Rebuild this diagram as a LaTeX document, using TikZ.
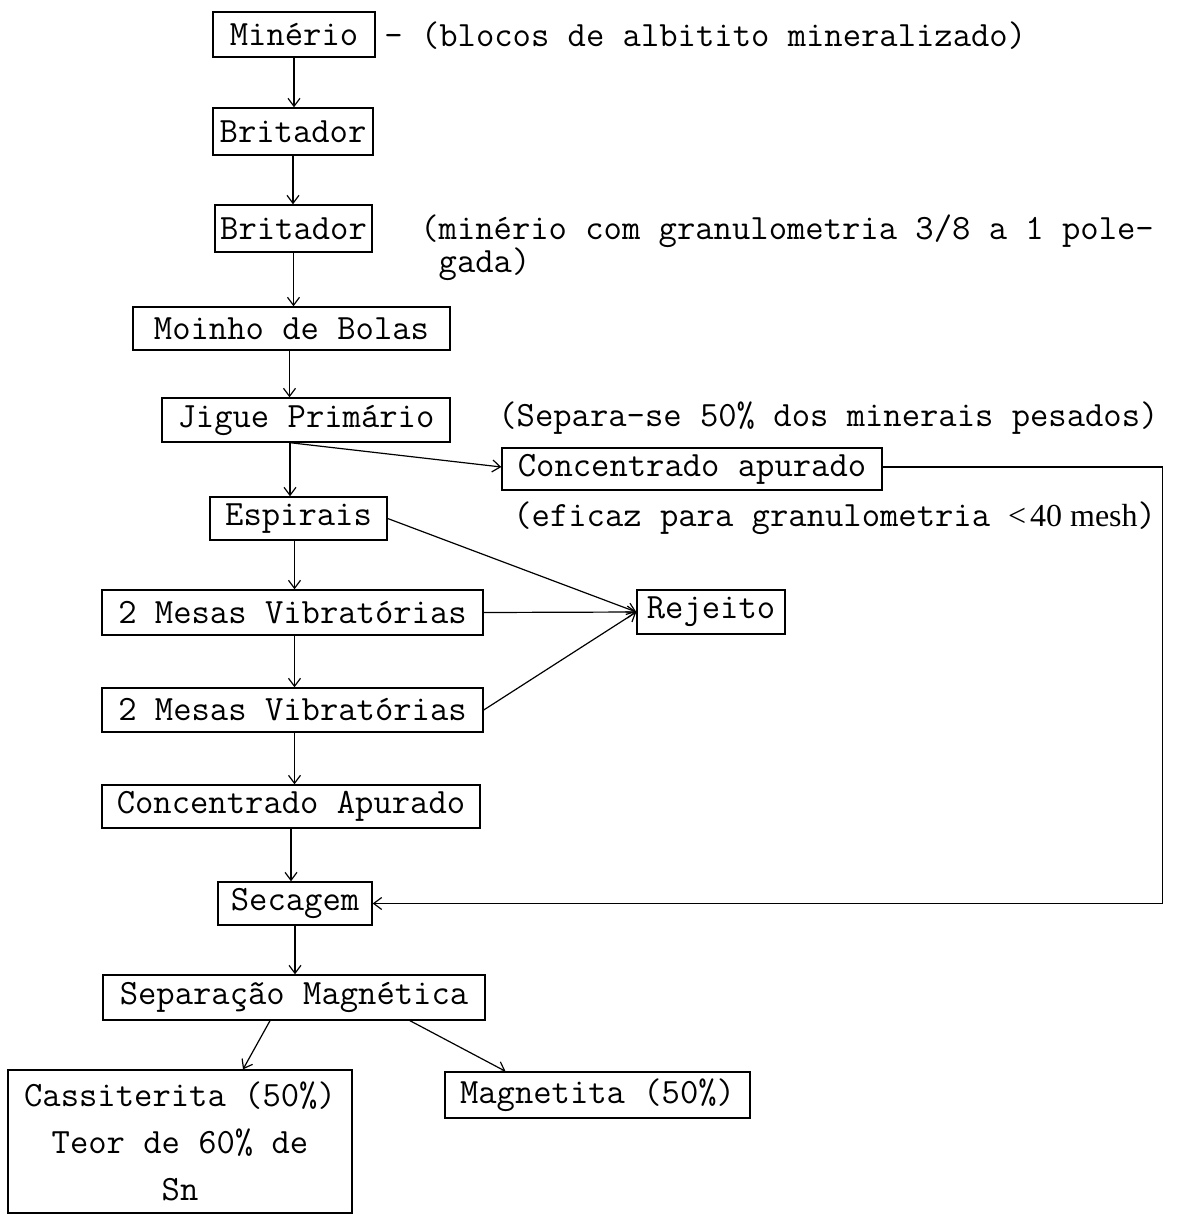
\documentclass[tikz,border=0pt]{standalone}
\usepackage{fontspec}
\setmainfont{Liberation Serif}
\usetikzlibrary{calc,arrows.meta}
\tikzset{
  box/.style={draw, line width=0.7pt, inner sep=0pt, font=\ttfamily\fontsize{17.8}{20}\selectfont},
  note/.style={inner sep=0pt, anchor=west, align=left, font=\ttfamily\fontsize{17.8}{16.5}\selectfont},
  arr/.style={line width=0.6pt, -{Straight Barb[length=4pt,width=6pt]}},
  ln/.style={line width=0.6pt}
}
\begin{document}
\begin{tikzpicture}[x=0.5pt,y=-0.5pt]
\useasboundingbox (0,0) rectangle (1194,1215);
\node[box, minimum width=81pt, minimum height=22.5pt] (min) at (294,34.5) {Minério};
\node[box, minimum width=80pt, minimum height=23.5pt] (bri1) at (293,131.5) {Britador};
\node[box, minimum width=78.5pt, minimum height=23.5pt] (bri2) at (293.5,228.5) {Britador};
\node[box, minimum width=158.5pt, minimum height=21.5pt] (moi) at (291.5,328.5) {Moinho de Bolas};
\node[box, minimum width=144pt, minimum height=22pt] (jig) at (306,420) {Jigue Primário};
\node[box, minimum width=190pt, minimum height=21pt] (cap) at (692,469) {Concentrado apurado};
\node[box, minimum width=88.5pt, minimum height=21.5pt] (esp) at (298.5,518.5) {Espirais};
\node[box, minimum width=74pt, minimum height=22pt] (rej) at (711,612) {Rejeito};
\node[box, minimum width=190.5pt, minimum height=22.5pt] (mes1) at (292.5,612.5) {2 Mesas Vibratórias};
\node[box, minimum width=190.5pt, minimum height=22pt] (mes2) at (292.5,710) {2 Mesas Vibratórias};
\node[box, minimum width=189pt, minimum height=21.5pt] (cAp) at (291,806.5) {Concentrado Apurado};
\node[box, minimum width=77pt, minimum height=21.5pt] (sec) at (295,903.5) {Secagem};
\node[box, minimum width=191pt, minimum height=22.5pt] (sep) at (294,997.5) {Separação Magnética};
\node[box, minimum width=172pt, minimum height=71.5pt, align=center, font=\ttfamily\fontsize{17.8}{23.5}\selectfont] (cas) at (180,1141.5) {Cassiterita (50\%)\\Teor de 60\% de\\Sn};
\node[box, minimum width=152.5pt, minimum height=23pt] (mag) at (597.5,1095) {Magnetita (50\%)};

\node[note] (n1) at (384,36) {- (blocos de albitito mineralizado)};
\node[note, anchor=north west] (n2) at (420,214) {(minério com granulometria 3/8 a 1 pole-\\\phantom{(}gada)};
\node[note] (n3) at (498,418) {(Separa-se 50\% dos minerais pesados)};
\node[note] (n4) at (513,518) {(eficaz para granulometria\hspace{9pt}{\rmfamily\fontsize{16}{18}\selectfont\textless\hspace{2pt}40 mesh})};

\draw[arr] (min.south) -- (min.south |- bri1.north);
\draw[arr] (bri1.south) -- (bri1.south |- bri2.north);
\draw[arr] (bri2.south) -- (bri2.south |- moi.north);
\draw[arr] ([xshift=-1pt]moi.south) -- ([xshift=-1pt]moi.south |- jig.north);
\draw[arr] ([xshift=-8pt]jig.south) -- ([xshift=-8pt]jig.south |- esp.north);
\draw[arr] ([xshift=-8pt]jig.south) -- ([yshift=1pt]cap.west);
\draw[arr] ([xshift=-2pt]esp.south) -- ([xshift=-2pt]esp.south |- mes1.north);
\draw[arr] ([xshift=1pt]mes1.south) -- ([xshift=1pt]mes1.south |- mes2.north);
\draw[arr] ([xshift=1pt]mes2.south) -- ([xshift=1pt]mes2.south |- cAp.north);
\draw[arr] (cAp.south) -- (cAp.south |- sec.north);
\draw[arr] (sec.south) -- (sec.south |- sep.north);
\draw[arr] (esp.east) -- (rej.west);
\draw[arr] (mes1.east) -- (rej.west);
\draw[arr] (mes2.east) -- (rej.west);
\draw[arr] ([yshift=1pt]cap.east) -- ++(280,0) |- (sec.east);
\draw[arr] ([xshift=-12pt]sep.south) -- ([xshift=31.5pt]cas.north);
\draw[arr] ([xshift=58pt]sep.south) -- ([xshift=-46pt]mag.north);
\end{tikzpicture}
\end{document}
